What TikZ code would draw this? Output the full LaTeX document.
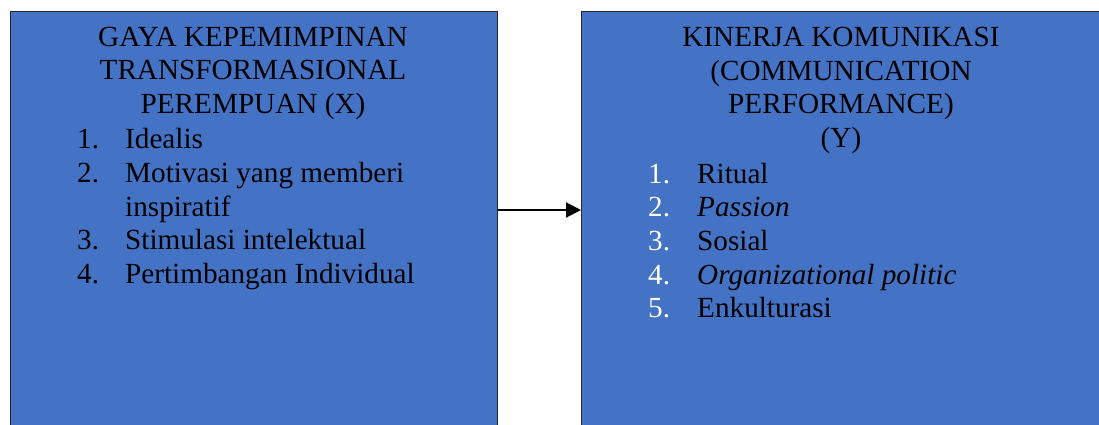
\documentclass[tikz,border=0pt]{standalone}
\usepackage{fontspec}
\setmainfont{Liberation Serif}
\usetikzlibrary{arrows.meta, positioning}
\definecolor{boxblue}{HTML}{4472C4}

\begin{document}
\begin{tikzpicture}[x=1pt,y=1pt,>={Triangle[length=15pt,width=15pt]},
  box node/.style={rectangle,draw=black!85,fill=boxblue,line width=1pt,
    minimum height=420pt,anchor=north west,inner sep=0pt},
  title node/.style={font=\fontsize{29.2}{33.7}\selectfont,align=center,
    inner sep=0pt,anchor=base},
  item node/.style={font=\fontsize{29.2}{33.7}\selectfont,inner sep=0pt,
    anchor=base west}]

  \useasboundingbox (0,0) rectangle (1099,-425);

  % the two variables
  \node[box node, minimum width=487pt] (X) at (9.5,-11) {};
  \node[box node, minimum width=522pt] (Y) at (581,-11) {};

  % base = last line of the title
  \node[title node] (xtitle) at (253,-113.6)
    {GAYA KEPEMIMPINAN\\TRANSFORMASIONAL\\PEREMPUAN (X)};
  \node[title node] (ytitle) at (841,-147.6)
    {KINERJA KOMUNIKASI\\(COMMUNICATION\\PERFORMANCE)\\(Y)};

  % indikator X
  \node[item node] (xn1) at (77,-148) {1.};
  \node[item node] (xi1) at (125,-148) {Idealis};
  \node[item node] (xn2) at (77,-182.5) {2.};
  \node[item node] (xi2) at (125,-182.5) {Motivasi yang memberi};
  \node[item node] (xi2b) at (125,-216) {inspiratif};
  \node[item node] (xn3) at (77,-249.5) {3.};
  \node[item node] (xi3) at (125,-249.5) {Stimulasi intelektual};
  \node[item node] (xn4) at (77,-283) {4.};
  \node[item node] (xi4) at (125,-283) {Pertimbangan Individual};

  % indikator Y
  \node[item node, white] (yn1) at (648,-183) {1.};
  \node[item node] (yi1) at (697,-183) {Ritual};
  \node[item node, white] (yn2) at (648,-216.7) {2.};
  \node[item node] (yi2) at (697,-216.7) {\itshape Passion};
  \node[item node, white] (yn3) at (648,-250.4) {3.};
  \node[item node] (yi3) at (697,-250.4) {Sosial};
  \node[item node, white] (yn4) at (648,-284.1) {4.};
  \node[item node] (yi4) at (697,-284.1) {\itshape Organizational politic};
  \node[item node, white] (yn5) at (648,-317.8) {5.};
  \node[item node] (yi5) at (697,-317.8) {Enkulturasi};

  \draw[->,line width=2pt] ([yshift=11.5pt]X.east) -- ([yshift=11.5pt]Y.west);
\end{tikzpicture}
\end{document}
